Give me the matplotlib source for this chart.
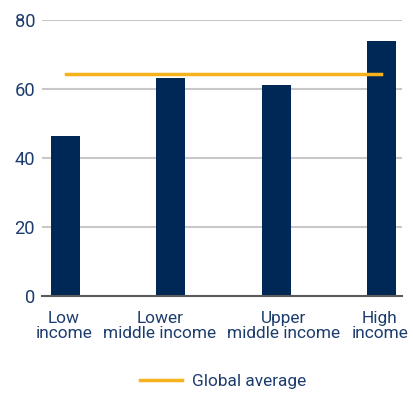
import matplotlib.pyplot as plt
from matplotlib.lines import Line2D
from matplotlib.transforms import offset_copy

plt.rcParams['font.family'] = ['Roboto', 'DejaVu Sans']

# share by income group, with the global average as reference
groups = ["Low\nincome", "Lower\nmiddle income", "Upper\nmiddle income", "High\nincome"]
values = [46.3, 63.1, 61.1, 73.8]
global_avg = 64.2

navy = "#002857"
gold = "#f5b21a"
txt = "#1d3c6e"

fig = plt.figure(figsize=(4.14, 3.93), dpi=100)
ax = fig.add_axes([0.1014, 0.2476, 0.8696, 0.7024])

x = list(range(len(groups)))
ax.bar(x, values, width=0.276, color=navy, zorder=3)
ax.plot([0, len(groups) - 1], [global_avg, global_avg], color=gold, lw=2.5, zorder=4)

ax.set_xlim(-0.224, 3.195)
ax.set_ylim(0, 80)
ax.set_yticks([0, 20, 40, 60, 80])
ax.yaxis.grid(True, color="#c8c8c8", lw=1.5, zorder=0)
for s in ["top", "right", "left"]:
    ax.spines[s].set_visible(False)
ax.spines["bottom"].set_color("#5a5a5a")
ax.spines["bottom"].set_linewidth(1.5)
ax.spines["bottom"].set_zorder(5)

ax.tick_params(axis="y", length=0, pad=5, labelsize=13.2, labelcolor=txt)
ax.set_xticks(x)
ax.set_xticklabels([])
ax.tick_params(axis="x", length=0)

# category labels, nudged sideways so the long ones don't collide
nudge = [-1.5, -11, 7.5, -1.5]
base = ax.get_xaxis_transform()
for xi, lab, dx in zip(x, groups, nudge):
    tr = offset_copy(base, fig=fig, x=dx, y=-15, units="dots")
    ax.text(xi, 0, lab, transform=tr, ha="center", va="top",
            fontsize=12.4, color=txt, linespacing=1.05)

handle = Line2D([], [], color=gold, lw=2.5)
fig.legend([handle], ["Global average"], loc="center", bbox_to_anchor=(0.539, 0.0305),
           frameon=False, fontsize=12.4, labelcolor=txt, handlelength=2.4,
           handletextpad=0.6)

fig.savefig("out.png", dpi=100)
